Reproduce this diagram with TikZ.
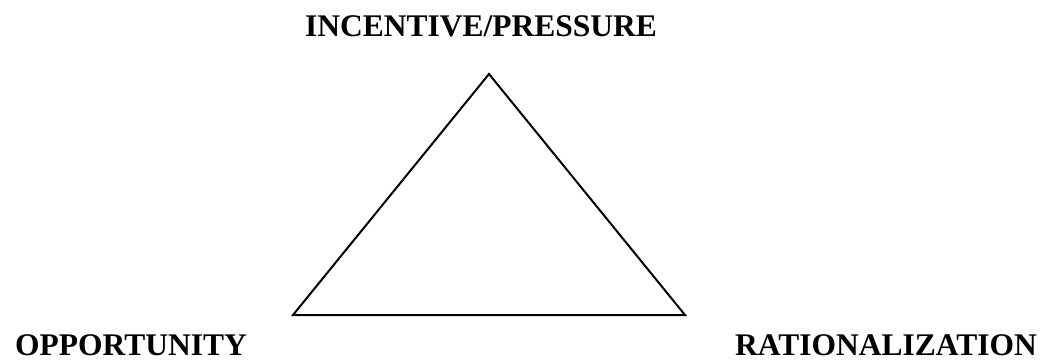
\documentclass[tikz,border=0pt]{standalone}
\usepackage{fontspec}
\setmainfont{Liberation Serif}
\begin{document}
\begin{tikzpicture}[x=1pt,y=1pt,
  lbl/.style={font=\fontsize{31.5}{36}\selectfont\bfseries, inner sep=0pt}]
\useasboundingbox (0,0) rectangle (1049,362);
\coordinate (apex) at (489,288);
\coordinate (bl) at (293,47);
\coordinate (br) at (685,47);
\draw[line width=2pt, line join=miter] (apex) -- (br) -- (bl) -- cycle;
\node[lbl, anchor=base] (top) at (481,325) {INCENTIVE/PRESSURE};
\node[lbl, anchor=base west] (opp) at (15,7) {OPPORTUNITY};
\node[lbl, anchor=base east] (rat) at (1037,7) {RATIONALIZATION};
\end{tikzpicture}
\end{document}
